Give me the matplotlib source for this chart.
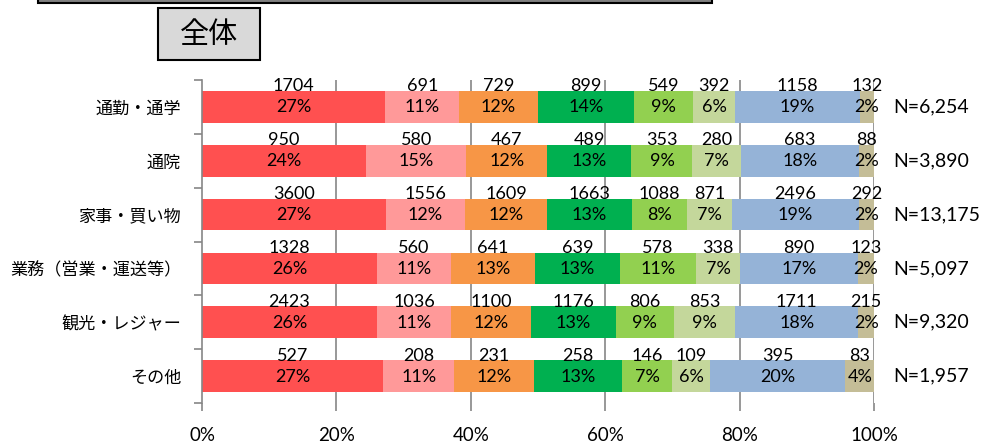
import numpy as np
import matplotlib
matplotlib.use('Agg')
import matplotlib.pyplot as plt
from matplotlib.patches import Rectangle

plt.rcParams['font.family'] = ['Noto Sans CJK JP', 'DejaVu Sans']

# purposes (rows) and trip counts per mode (segments)
categories = ['通勤・通学', '通院', '家事・買い物', '業務（営業・運送等）', '観光・レジャー', 'その他']

s1 = [1704, 950, 3600, 1328, 2423, 527]
s2 = [691, 580, 1556, 560, 1036, 208]
s3 = [729, 467, 1609, 641, 1100, 231]
s4 = [899, 489, 1663, 639, 1176, 258]
s5 = [549, 353, 1088, 578, 806, 146]
s6 = [392, 280, 871, 338, 853, 109]
s7 = [1158, 683, 2496, 890, 1711, 395]
s8 = [132, 88, 292, 123, 215, 83]

xticks = [0, 0.2, 0.4, 0.6, 0.8, 1.0]
xtick_labels = ['0%', '20%', '40%', '60%', '80%', '100%']

colors = ['#FF5050', '#FF9999', '#F79646', '#00B050',
          '#92D050', '#C4D79B', '#95B3D7', '#C4BD97']

counts = np.array([s1, s2, s3, s4, s5, s6, s7, s8], dtype=float)
totals = counts.sum(axis=0)
shares = counts / totals

W, H = 988, 448
fig = plt.figure(figsize=(W / 100, H / 100), dpi=100)
ax = fig.add_axes([202 / W, 1 - 403 / H, 672 / W, 323 / H])

num_font = dict(family=['Lato', 'DejaVu Sans'], fontsize=13, color='black')

y = np.arange(len(categories))
left = np.zeros(len(categories))
for k in range(counts.shape[0]):
    ax.barh(y, shares[k], left=left, height=0.59, color=colors[k],
            edgecolor='none', zorder=2)
    for i in range(len(categories)):
        xc = left[i] + shares[k, i] / 2
        ax.text(xc, i - 0.38, '%d' % counts[k, i], ha='center', va='center',
                zorder=3, **num_font)
        ax.text(xc, i + 0.01, '%d%%' % round(shares[k, i] * 100),
                ha='center', va='center', zorder=3, **num_font)
    left += shares[k]

for i, n in enumerate(totals):
    ax.text(1.028, i, 'N=%s' % format(int(n), ','), ha='left', va='center',
            family=['Lato', 'DejaVu Sans'], fontsize=14, clip_on=False)

ax.set_xlim(0, 1)
ax.set_ylim(len(categories) - 0.5, -0.5)

# gridlines at each 20%
for xv in xticks[1:]:
    ax.axvline(xv, color='#868686', lw=1.2, zorder=1)

ax.set_xticks(xticks)
ax.set_xticklabels(xtick_labels, family=['Lato', 'DejaVu Sans'], fontsize=13.5)
ax.set_yticks(np.arange(-0.5, len(categories), 1.0), minor=False)
ax.set_yticklabels([])
ax.set_yticks(y, minor=True)
ax.set_yticklabels(categories, minor=True, fontsize=12.3)
ax.tick_params(axis='y', which='minor', length=0, pad=15)
ax.tick_params(axis='y', which='major', length=6, width=1.2, color='#868686')
ax.tick_params(axis='x', length=6, width=1.2, color='#868686', pad=11)

for side in ['top', 'right', 'bottom']:
    ax.spines[side].set_visible(False)
ax.spines['left'].set_color('#868686')
ax.spines['left'].set_linewidth(1.2)

# title box
fig.patches.append(Rectangle((158 / W, 1 - 60 / H), 102 / W, 52 / H,
                             transform=fig.transFigure, facecolor='#D9D9D9',
                             edgecolor='black', linewidth=1.5))
fig.text(209 / W, 1 - 35 / H, '全体', ha='center', va='center', fontsize=21)

# bottom edge of the header frame
fig.patches.append(Rectangle((38 / W, 1 - 3 / H), 674 / W, 10 / H,
                             transform=fig.transFigure, facecolor='#808080',
                             edgecolor='black', linewidth=1.5))

fig.savefig('out.png', dpi=100)
